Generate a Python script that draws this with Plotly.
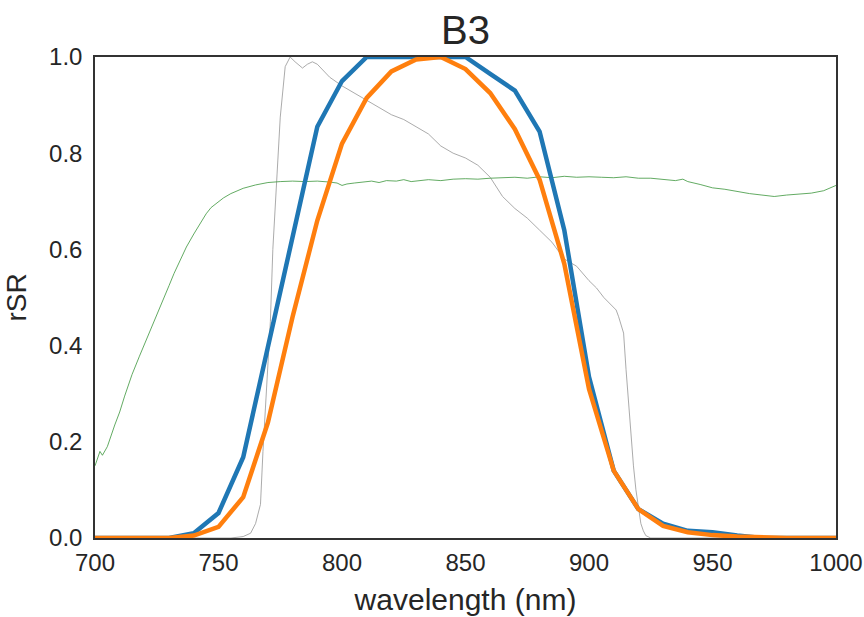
import plotly.graph_objects as go

# Relative spectral response of band B3, two instrument variants (10 nm sampling)
band_wl = list(range(700, 1001, 10))
rsr_a = [0, 0, 0, 0, 0.01, 0.052, 0.168, 0.40, 0.63, 0.855, 0.95, 1.0, 1.0, 1.0, 1.0, 1.0,
         0.965, 0.93, 0.845, 0.64, 0.335, 0.14, 0.06, 0.03, 0.015, 0.012, 0.005, 0, 0, 0, 0]
rsr_b = [0, 0, 0, 0, 0.005, 0.023, 0.085, 0.24, 0.46, 0.66, 0.82, 0.915, 0.97, 0.995, 1.0, 0.975,
         0.925, 0.85, 0.745, 0.57, 0.31, 0.14, 0.06, 0.025, 0.012, 0.006, 0.003, 0.001, 0, 0, 0]

# Reference filter response (finer sampling)
ref_wl = [700, 755, 760, 763, 765, 767, 768, 770, 771, 772, 773, 775, 777, 779, 781, 783, 784,
          786, 788, 790, 793, 795, 800, 805, 810, 815, 820, 825, 830, 835, 840, 845, 850, 855,
          860, 865, 870, 875, 880, 885, 890, 895, 900, 903, 906, 909, 911, 912, 914, 915, 916,
          917, 918, 919, 920, 921, 922, 923, 925, 1000]
ref_rsr = [0, 0, 0.003, 0.01, 0.03, 0.07, 0.18, 0.35, 0.45, 0.6, 0.7, 0.875, 0.98, 1.0, 0.99,
           0.98, 0.977, 0.985, 0.99, 0.985, 0.97, 0.958, 0.94, 0.925, 0.91, 0.895, 0.88, 0.87,
           0.855, 0.84, 0.815, 0.8, 0.79, 0.775, 0.75, 0.71, 0.685, 0.665, 0.64, 0.615, 0.58,
           0.565, 0.535, 0.52, 0.5, 0.485, 0.474, 0.46, 0.426, 0.35, 0.28, 0.21, 0.15, 0.1, 0.06,
           0.03, 0.015, 0.005, 0, 0]

# Vegetation reflectance spectrum
veg_wl = [700, 701, 702, 703, 704, 705, 708, 710, 712, 715, 718, 720, 722, 725, 728, 730, 732,
          735, 737, 740, 742, 745, 747, 750, 752, 755, 757, 760, 765, 770, 775, 780, 785, 790,
          795, 798, 800, 802, 805, 808, 812, 815, 818, 822, 825, 828, 832, 835, 840, 845, 850,
          855, 860, 865, 870, 875, 880, 885, 890, 895, 900, 905, 910, 915, 920, 925, 930, 935,
          938, 940, 945, 950, 955, 960, 965, 970, 975, 980, 985, 990, 995, 998, 1000]
veg_refl = [0.15, 0.165, 0.18, 0.172, 0.18, 0.19, 0.235, 0.262, 0.295, 0.34, 0.378, 0.402,
            0.428, 0.462, 0.5, 0.525, 0.55, 0.585, 0.605, 0.632, 0.65, 0.674, 0.687, 0.7,
            0.707, 0.716, 0.721, 0.727, 0.734, 0.739, 0.741, 0.742, 0.741, 0.742, 0.74, 0.738,
            0.733, 0.736, 0.738, 0.74, 0.742, 0.739, 0.743, 0.742, 0.745, 0.741, 0.744, 0.745,
            0.743, 0.746, 0.747, 0.746, 0.748, 0.749, 0.75, 0.748, 0.751, 0.749, 0.752, 0.75,
            0.751, 0.75, 0.749, 0.751, 0.748, 0.748, 0.745, 0.743, 0.746, 0.741, 0.735, 0.728,
            0.725, 0.72, 0.716, 0.713, 0.71, 0.713, 0.715, 0.717, 0.722, 0.728, 0.733]

x_ticks = [700, 750, 800, 850, 900, 950, 1000]
y_ticks = [0.0, 0.2, 0.4, 0.6, 0.8, 1.0]

TEXT = "#262626"
FONT = "Liberation Sans, Arial, sans-serif"

fig = go.Figure()
fig.add_trace(go.Scatter(x=ref_wl, y=ref_rsr, mode="lines",
                         line=dict(color="rgba(150,150,150,0.8)", width=1)))
fig.add_trace(go.Scatter(x=veg_wl, y=veg_refl, mode="lines",
                         line=dict(color="rgba(60,150,60,0.8)", width=1)))
fig.add_trace(go.Scatter(x=band_wl, y=rsr_a, mode="lines",
                         line=dict(color="#1f77b4", width=4.5)))
fig.add_trace(go.Scatter(x=band_wl, y=rsr_b, mode="lines",
                         line=dict(color="#ff7f0e", width=4.5)))

axis_common = dict(showgrid=False, zeroline=False, showline=True, mirror=True,
                   linecolor="#333333", linewidth=1.5, ticks="", automargin=False,
                   tickfont=dict(family=FONT, size=24, color=TEXT))

fig.update_layout(
    width=864, height=617,
    margin=dict(l=95, r=28, t=57, b=79),
    paper_bgcolor="white", plot_bgcolor="white",
    showlegend=False,
    title=dict(text="B3", xref="paper", x=0.5, xanchor="center",
               yref="container", y=0.951, yanchor="middle",
               font=dict(family=FONT, size=40, color=TEXT)),
    xaxis=dict(range=[700, 1000], tickvals=x_ticks, ticktext=[str(v) for v in x_ticks],
               ticklabelstandoff=2,
               title=dict(text="wavelength (nm)", standoff=14,
                          font=dict(family=FONT, size=30, color=TEXT)),
               **axis_common),
    yaxis=dict(range=[0, 1], tickvals=y_ticks, ticktext=[f"{v:.1f}" for v in y_ticks],
               ticklabelstandoff=6,
               title=dict(text="rSR", standoff=14,
                          font=dict(family=FONT, size=28, color=TEXT)),
               **axis_common),
)

fig.write_html("out.html")
